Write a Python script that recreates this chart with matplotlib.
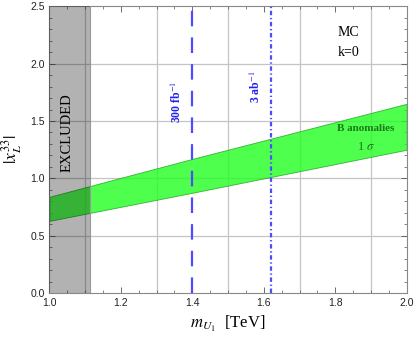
import numpy as np
import matplotlib
matplotlib.use("Agg")
import matplotlib.pyplot as plt

# data
band_m = [1.0, 1.4, 2.0]
band_lo = [0.63, 0.875, 1.25]
band_hi = [0.84, 1.17, 1.65]
excluded = (1.0, 1.115)
lumi_lines = {"300 fb$^{-1}$": 1.40, "3 ab$^{-1}$": 1.62}

plt.rcParams.update({
    "font.family": ["Liberation Sans", "DejaVu Sans"],
    "mathtext.fontset": "stix",
    "font.size": 7,
})

fig = plt.figure(figsize=(4.15, 3.41), dpi=100)
ax = fig.add_axes([0.119, 0.14, 0.861, 0.842])

serif = ["Liberation Serif", "DejaVu Serif"]

# grid
for gx in [1.1, 1.3, 1.5, 1.7, 1.9]:
    ax.axvline(gx, color="#c4c4c4", lw=0.9, zorder=0)
for gy in [0.5, 1.0, 1.5, 2.0]:
    ax.axhline(gy, color="#c4c4c4", lw=0.9, zorder=0)

# B anomalies band
ax.fill_between(band_m, band_lo, band_hi, color="#22ff22", alpha=0.8,
                lw=0.6, edgecolor="#1aa01a", zorder=2)
ax.text(1.885, 1.436, "B anomalies", ha="center", va="center", fontsize=8,
        fontweight="bold", family=serif, color="#1a7a1a", zorder=5)
ax.text(1.885, 1.276, r"1 $\sigma$", ha="center", va="center", fontsize=9,
        family=serif, color="#1a7a1a", zorder=5)

# excluded region (drawn over the band, darkening it)
ax.axvspan(*excluded, color="black", alpha=0.3, lw=0, zorder=3)
ax.axvline(excluded[1], color="#999999", lw=0.8, zorder=3)
ax.text(1.049, 1.40, "EXCLUDED", rotation=90, ha="center", va="center",
        fontsize=10.5, family=serif, zorder=5)

# luminosity reach lines
styles = [(0, (7, 5)), (0, (2, 1.2, 0.6, 1.2))]
for (lab, xv), ls, lx, ly in zip(lumi_lines.items(), styles,
                                  [1.357, 1.578], [1.667, 1.80]):
    ax.axvline(xv, color="#4d4dff", lw=1.6, ls=ls, zorder=4)
    ax.text(lx, ly, lab, rotation=90, ha="center", va="center", fontsize=8.5,
            fontweight="bold", family=serif, color="#2222ee", zorder=5)

ax.text(1.837, 2.27, "MC", ha="center", va="center", fontsize=10, family=serif)
ax.text(1.837, 2.10, "k=0", ha="center", va="center", fontsize=10, family=serif)

ax.set_xlim(1.0, 2.0)
ax.set_ylim(0, 2.5)
ax.set_xticks([1.0, 1.2, 1.4, 1.6, 1.8, 2.0])
ax.set_yticks([0.0, 0.5, 1.0, 1.5, 2.0, 2.5])
ax.set_xticklabels(["1.0", "1.2", "1.4", "1.6", "1.8", "2.0"])
ax.set_yticklabels(["0.0", "0.5", "1.0", "1.5", "2.0", "2.5"])
ax.xaxis.set_minor_locator(matplotlib.ticker.MultipleLocator(0.05))
ax.yaxis.set_minor_locator(matplotlib.ticker.MultipleLocator(0.1))
ax.tick_params(which="both", direction="in", top=True, right=True,
               color="#555555", labelsize=7.5, labelcolor="#222222")
ax.tick_params(which="major", length=4, width=0.6)
ax.tick_params(which="minor", length=2, width=0.5)
for s in ax.spines.values():
    s.set_color("#888888")
    s.set_linewidth(0.8)

ax.set_xlabel(r"$m_{U_1}$  [TeV]", fontsize=12, family=serif)
ax.set_ylabel(r"$|x_L^{33}|$", fontsize=12.5, family=serif)
ax.yaxis.set_label_coords(-0.072, 0.5)

fig.savefig("out.png", dpi=100)
